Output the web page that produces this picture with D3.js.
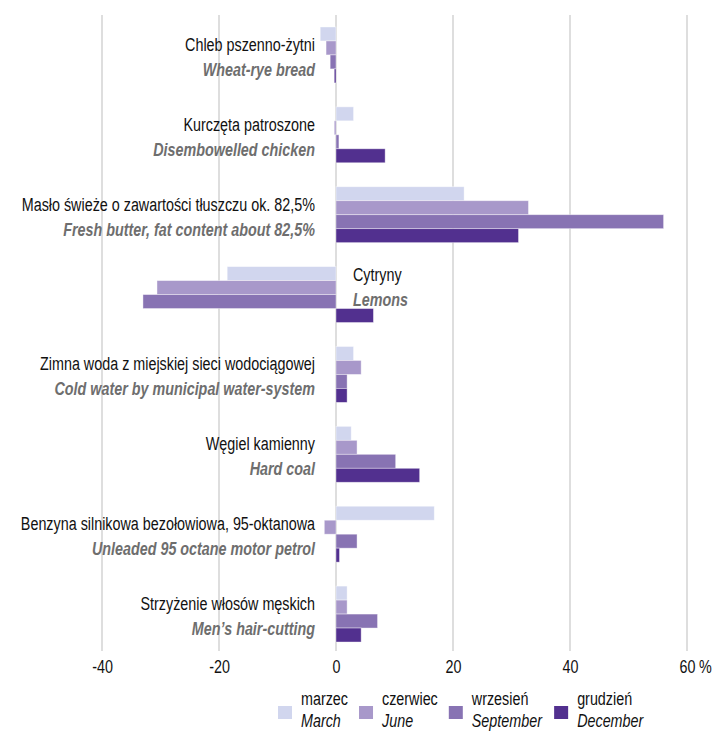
<!DOCTYPE html>
<html>
<head>
<meta charset="utf-8">
<script src="https://cdn.jsdelivr.net/npm/d3@7"></script>
<style>
  html, body { margin: 0; padding: 0; background: #fff; }
  svg { display: block; font-family: "Liberation Sans", Arial, sans-serif; }
</style>
</head>
<body>
<div id="chart"></div>
<script>
const categoriesPl = [
    'Chleb pszenno-żytni',
    'Kurczęta patroszone',
    'Masło świeże o zawartości tłuszczu ok. 82,5%',
    'Cytryny',
    'Zimna woda z miejskiej sieci wodociągowej',
    'Węgiel kamienny',
    'Benzyna silnikowa bezołowiowa, 95-oktanowa',
    'Strzyżenie włosów męskich'
];
const categoriesEn = [
    'Wheat-rye bread',
    'Disembowelled chicken',
    'Fresh butter, fat content about 82,5%',
    'Lemons',
    'Cold water by municipal water-system',
    'Hard coal',
    'Unleaded 95 octane motor petrol',
    'Men’s hair-cutting'
];
const seriesPl = ['marzec', 'czerwiec', 'wrzesień', 'grudzień'];
const seriesEn = ['March', 'June', 'September', 'December'];

const march     = [-2.7,  3.0, 21.9, -18.6, 3.0,  2.6, 16.8, 1.9];
const june      = [-1.7, -0.3, 32.9, -30.6, 4.3,  3.6, -2.0, 1.9];
const september = [-1.0,  0.5, 56.0, -33.0, 1.9, 10.2,  3.6, 7.1];
const december  = [-0.3,  8.4, 31.2,   6.4, 1.9, 14.3,  0.6, 4.3];

const xTicks = [-40, -20, 0, 20, 40, 60];
const unit = '%';

const colors = ['#d1d6ee', '#a898ca', '#8873b3', '#52308f'];

const width = 717, height = 732;
const NARROW = 0.755; // condensed look from a regular face
const FS = 19;
const seriesValues = [march, june, september, december];
const rows = categoriesPl.map((pl, i) => ({
    pl, en: categoriesEn[i],
    values: seriesValues.map((s) => s[i])
}));

// text squeezed horizontally around its anchor point
function narrowText(parent, tx, ty, str, o = {}) {
    const g = parent.append('g').attr('transform', `translate(${tx},${ty}) scale(${NARROW},1)`);
    g.append('text')
        .attr('text-anchor', o.anchor || 'start')
        .attr('font-size', o.size || FS)
        .attr('font-style', o.italic ? 'italic' : null)
        .attr('font-weight', o.bold ? 'bold' : null)
        .attr('fill', o.fill || '#111')
        .text(str);
    return g;
}

const svg = d3.select('#chart').append('svg')
    .attr('width', width).attr('height', height);

const x = d3.scaleLinear().domain([-40, 60]).range([102, 687]);
const y = d3.scaleBand().domain(d3.range(rows.length)).range([15, 654])
    .paddingInner(0.3).paddingOuter(0.15);
const ySub = d3.scaleBand().domain(d3.range(seriesPl.length)).range([0, y.bandwidth()]);

// vertical gridlines
svg.append('g')
    .selectAll('line')
    .data(xTicks)
    .join('line')
    .attr('x1', (d) => x(d)).attr('x2', (d) => x(d))
    .attr('y1', 15).attr('y2', 651)
    .attr('stroke', '#d3d3d3').attr('stroke-width', 1.5);

// bars
const groups = svg.append('g').selectAll('g')
    .data(rows)
    .join('g')
    .attr('transform', (d, i) => `translate(0,${y(i)})`);

groups.selectAll('rect')
    .data((d) => d.values)
    .join('rect')
    .attr('x', (v) => x(Math.min(0, v)))
    .attr('width', (v) => Math.abs(x(v) - x(0)))
    .attr('y', (v, j) => ySub(j))
    .attr('height', ySub.bandwidth())
    .attr('fill', (v, j) => colors[j])
    .attr('stroke', '#fff').attr('stroke-opacity', 0.5).attr('stroke-width', 0.8);

// category labels (right of zero when the bars run far left)
groups.each(function (d) {
    const g = d3.select(this);
    const right = d3.min(d.values) < -10;
    const cy = y.bandwidth() / 2;
    const lx = right ? x(0) + 17 : x(0) - 21;
    const anchor = right ? 'start' : 'end';
    narrowText(g, lx, cy + (right ? -14 : -4), d.pl, { anchor });
    narrowText(g, lx, cy + (right ? 11 : 21), d.en, { anchor, italic: true, bold: true, fill: '#6e6e6e' });
});

// x axis labels
const axis = svg.append('g').attr('transform', 'translate(0,673)')
    .call(d3.axisBottom(x).tickValues(xTicks).tickSize(0).tickFormat(''));
axis.select('.domain').remove();
axis.selectAll('.tick').each(function (d) {
    narrowText(d3.select(this), 0, 0, String(d), { anchor: 'middle' });
});
narrowText(svg, x(60) + 12, 673, unit);

// legend
const legend = svg.append('g');
let lx = 278;
seriesPl.forEach((name, j) => {
    const item = legend.append('g').attr('transform', `translate(${lx},0)`);
    item.append('rect')
        .attr('x', 0).attr('y', 706).attr('width', 14).attr('height', 13)
        .attr('fill', colors[j]);
    const t1 = narrowText(item, 23, 705, name);
    const t2 = narrowText(item, 23, 727, seriesEn[j], { italic: true });
    const w = Math.max(t1.node().getBoundingClientRect().width, t2.node().getBoundingClientRect().width);
    lx += 23 + w + 11;
});
</script>
</body>
</html>
